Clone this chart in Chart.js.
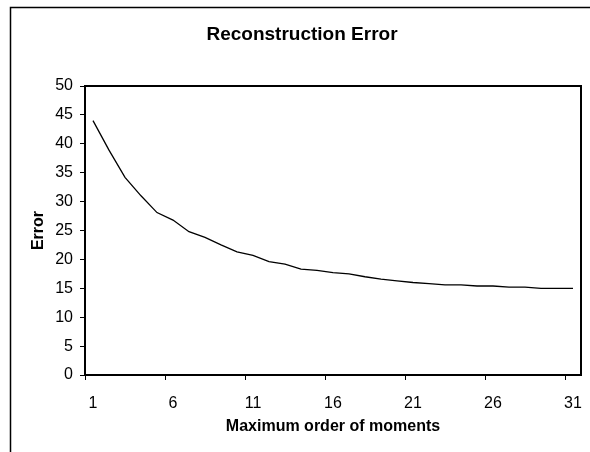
<!DOCTYPE html>
<html>
<head>
<meta charset="utf-8">
<script src="https://cdn.jsdelivr.net/npm/chart.js@4/dist/chart.umd.min.js"></script>
<style>
  body { margin: 0; background: #fff; }
  canvas { display: block; }
</style>
</head>
<body>
<canvas id="errChart" width="590" height="452"></canvas>
<script>
const moments = ["1", "2", "3", "4", "5", "6", "7", "8", "9", "10",
  "11", "12", "13", "14", "15", "16", "17", "18", "19", "20",
  "21", "22", "23", "24", "25", "26", "27", "28", "29", "30", "31"];
const errors = [44, 38.9, 34.2, 31.0, 28.1, 26.8, 24.8, 23.8, 22.5, 21.3,
  20.7, 19.6, 19.2, 18.3, 18.1, 17.7, 17.5, 17.0, 16.6, 16.3,
  16.0, 15.8, 15.6, 15.6, 15.4, 15.4, 15.2, 15.2, 15.0, 15.0, 15.0];
const yTicks = [0, 5, 10, 15, 20, 25, 30, 35, 40, 45, 50];

const FONT = "'Liberation Sans', Arial, sans-serif";

// white page, outer frame and the heavy plot box
const framePlugin = {
  id: "frame",
  beforeDraw(chart) {
    const ctx = chart.ctx;
    ctx.save();
    ctx.fillStyle = "#fff";
    ctx.fillRect(0, 0, chart.width, chart.height);
    ctx.strokeStyle = "#000";
    ctx.lineWidth = 1.5;
    ctx.strokeRect(10.5, 7.5, 700, 600);
    ctx.restore();
  },
  afterDraw(chart) {
    const a = chart.chartArea;
    const ctx = chart.ctx;
    ctx.save();
    ctx.strokeStyle = "#000";
    ctx.lineWidth = 2;
    ctx.strokeRect(a.left, a.top, a.right - a.left, a.bottom - a.top);
    ctx.restore();
  }
};

new Chart(document.getElementById("errChart"), {
  type: "line",
  data: {
    labels: moments,
    datasets: [{
      data: errors,
      borderColor: "#000",
      borderWidth: 1.3,
      pointRadius: 0,
      tension: 0,
      fill: false
    }]
  },
  options: {
    responsive: false,
    animation: false,
    layout: { padding: { left: 23, right: 9, top: 0, bottom: 0 } },
    plugins: {
      legend: { display: false },
      tooltip: { enabled: false },
      title: {
        display: true,
        text: "Reconstruction Error",
        color: "#000",
        font: { family: FONT, size: 19, weight: "bold", lineHeight: 1.2 },
        padding: { top: 23.6, bottom: 39.6 }
      }
    },
    scales: {
      x: {
        type: "category",
        offset: true,
        border: { display: false },
        grid: {
          offset: true,
          drawOnChartArea: false,
          drawTicks: true,
          tickLength: 5,
          color: c => (c.index % 5 === 0 ? "#000" : "rgba(0,0,0,0)")
        },
        ticks: {
          autoSkip: false,
          maxRotation: 0,
          padding: 14,
          color: "#000",
          font: { family: FONT, size: 16 },
          callback: function (v, i) { return i % 5 === 0 ? this.getLabelForValue(v) : ""; }
        },
        title: {
          display: true,
          text: "Maximum order of moments",
          color: "#000",
          font: { family: FONT, size: 16, weight: "bold", lineHeight: 1.2 },
          padding: { top: 0, bottom: 16 }
        },
        afterFit: s => {
          s.height = 77;
          s.paddingLeft = 0;
          s.paddingRight = 0;
        }
      },
      y: {
        min: yTicks[0],
        max: yTicks[yTicks.length - 1],
        border: { display: false },
        grid: {
          drawOnChartArea: false,
          drawTicks: true,
          tickLength: 5,
          color: "#000"
        },
        afterBuildTicks: s => { s.ticks = yTicks.map(v => ({ value: v })); },
        ticks: {
          padding: 7,
          color: "#000",
          font: { family: FONT, size: 16 }
        },
        title: {
          display: true,
          text: "Error",
          color: "#000",
          font: { family: FONT, size: 16, weight: "bold", lineHeight: 1.2 },
          padding: { top: 6, bottom: 0 }
        },
        afterFit: s => { s.width = 62; }
      }
    }
  },
  plugins: [framePlugin]
});
</script>
</body>
</html>
